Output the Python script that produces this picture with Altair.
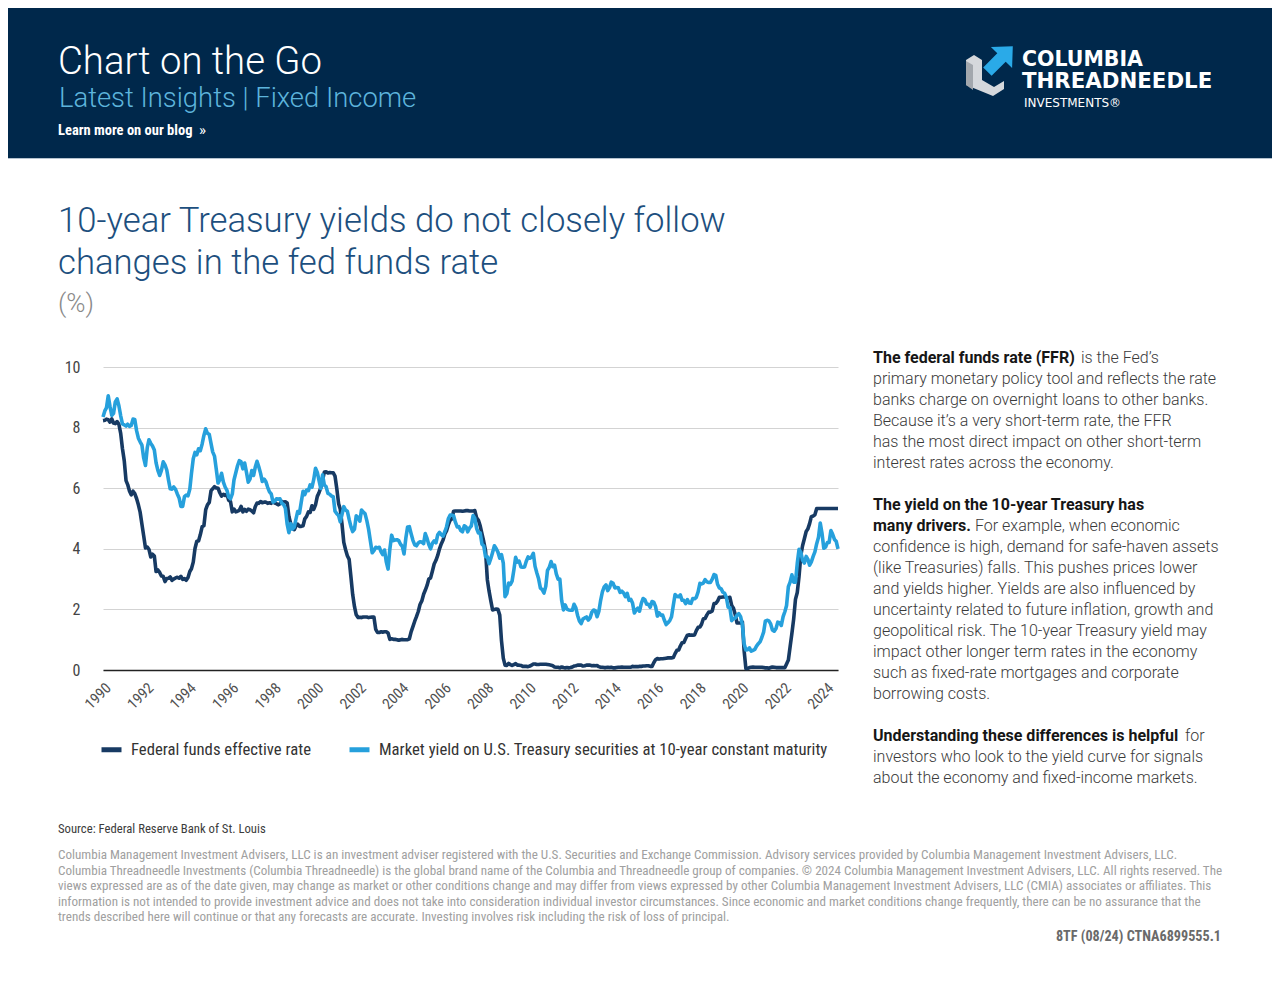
import altair as alt
import pandas as pd

# ---------------- data (monthly, Jan 1990 - Aug 2024) ----------------
series_names = [
    "Federal funds effective rate",
    "Market yield on U.S. Treasury securities at 10-year constant maturity",
]

ffr = [
    8.23, 8.24, 8.28, 8.26, 8.18, 8.29, 8.15, 8.13, 8.20, 8.11, 7.81, 7.31,  # 1990
    6.91, 6.25, 6.12, 5.91, 5.78, 5.90, 5.82, 5.66, 5.45, 5.21, 4.81, 4.43,  # 1991
    4.03, 4.06, 3.98, 3.73, 3.82, 3.76, 3.25, 3.30, 3.22, 3.10, 3.09, 2.92,  # 1992
    3.02, 3.03, 3.07, 2.96, 3.00, 3.04, 3.06, 3.03, 3.09, 2.99, 3.02, 2.96,  # 1993
    3.05, 3.25, 3.34, 3.56, 4.01, 4.25, 4.26, 4.47, 4.73, 4.76, 5.29, 5.45,  # 1994
    5.53, 5.92, 5.98, 6.05, 6.01, 6.00, 5.85, 5.74, 5.80, 5.76, 5.80, 5.60,  # 1995
    5.56, 5.22, 5.31, 5.22, 5.24, 5.27, 5.40, 5.22, 5.30, 5.24, 5.31, 5.29,  # 1996
    5.25, 5.19, 5.39, 5.51, 5.50, 5.56, 5.52, 5.54, 5.54, 5.50, 5.52, 5.50,  # 1997
    5.56, 5.51, 5.49, 5.45, 5.49, 5.56, 5.54, 5.55, 5.51, 5.07, 4.83, 4.68,  # 1998
    4.63, 4.76, 4.81, 4.74, 4.74, 4.76, 4.99, 5.07, 5.22, 5.20, 5.42, 5.30,  # 1999
    5.45, 5.73, 5.85, 6.02, 6.27, 6.53, 6.54, 6.50, 6.52, 6.51, 6.51, 6.40,  # 2000
    5.98, 5.49, 5.31, 4.80, 4.21, 3.97, 3.77, 3.65, 3.07, 2.49, 2.09, 1.82,  # 2001
    1.73, 1.74, 1.73, 1.75, 1.75, 1.75, 1.73, 1.74, 1.75, 1.75, 1.34, 1.24,  # 2002
    1.24, 1.26, 1.25, 1.26, 1.26, 1.22, 1.01, 1.03, 1.01, 1.01, 1.00, 0.98,  # 2003
    1.00, 1.01, 1.00, 1.00, 1.00, 1.03, 1.26, 1.43, 1.61, 1.76, 1.93, 2.16,  # 2004
    2.28, 2.50, 2.63, 2.79, 3.00, 3.04, 3.26, 3.50, 3.62, 3.78, 4.00, 4.16,  # 2005
    4.29, 4.49, 4.59, 4.79, 4.94, 4.99, 5.24, 5.25, 5.25, 5.25, 5.25, 5.24,  # 2006
    5.25, 5.26, 5.26, 5.25, 5.25, 5.25, 5.26, 5.02, 4.94, 4.76, 4.49, 4.24,  # 2007
    3.94, 2.98, 2.61, 2.28, 1.98, 2.00, 2.01, 2.00, 1.81, 0.97, 0.39, 0.16,  # 2008
    0.15, 0.22, 0.18, 0.15, 0.18, 0.21, 0.16, 0.16, 0.15, 0.12, 0.12, 0.12,  # 2009
    0.11, 0.13, 0.16, 0.20, 0.20, 0.18, 0.18, 0.19, 0.19, 0.19, 0.19, 0.18,  # 2010
    0.17, 0.16, 0.14, 0.10, 0.09, 0.09, 0.07, 0.10, 0.08, 0.07, 0.08, 0.07,  # 2011
    0.08, 0.10, 0.13, 0.14, 0.16, 0.16, 0.16, 0.13, 0.14, 0.16, 0.16, 0.16,  # 2012
    0.14, 0.15, 0.14, 0.15, 0.11, 0.09, 0.09, 0.08, 0.08, 0.09, 0.08, 0.09,  # 2013
    0.07, 0.07, 0.08, 0.09, 0.09, 0.10, 0.09, 0.09, 0.09, 0.09, 0.09, 0.12,  # 2014
    0.11, 0.11, 0.11, 0.12, 0.12, 0.13, 0.13, 0.14, 0.14, 0.12, 0.12, 0.24,  # 2015
    0.34, 0.38, 0.36, 0.37, 0.37, 0.38, 0.39, 0.40, 0.40, 0.40, 0.41, 0.54,  # 2016
    0.65, 0.66, 0.79, 0.90, 0.91, 1.04, 1.15, 1.16, 1.15, 1.15, 1.16, 1.30,  # 2017
    1.41, 1.42, 1.51, 1.69, 1.70, 1.82, 1.91, 1.91, 1.95, 2.19, 2.20, 2.27,  # 2018
    2.40, 2.40, 2.41, 2.42, 2.39, 2.38, 2.40, 2.13, 2.04, 1.83, 1.55, 1.55,  # 2019
    1.55, 1.58, 0.65, 0.05, 0.05, 0.08, 0.09, 0.10, 0.09, 0.09, 0.09, 0.09,  # 2020
    0.09, 0.08, 0.07, 0.07, 0.06, 0.08, 0.10, 0.09, 0.08, 0.08, 0.08, 0.08,  # 2021
    0.08, 0.08, 0.20, 0.33, 0.77, 1.21, 1.68, 2.33, 2.56, 3.08, 3.78, 4.10,  # 2022
    4.33, 4.57, 4.65, 4.83, 5.06, 5.08, 5.12, 5.33, 5.33, 5.33, 5.33, 5.33,  # 2023
    5.33, 5.33, 5.33, 5.33, 5.33, 5.33, 5.33, 5.33,                          # 2024
]

ust10 = [
    8.35, 8.55, 8.65, 9.05, 8.70, 8.40, 8.47, 8.85, 8.95, 8.72, 8.39, 8.12,  # 1990
    8.09, 8.05, 8.11, 8.04, 8.07, 8.28, 8.27, 7.90, 7.65, 7.53, 7.42, 7.00,  # 1991
    6.75, 7.34, 7.60, 7.48, 7.39, 7.26, 6.84, 6.59, 6.42, 6.59, 6.87, 6.77,  # 1992
    6.60, 6.26, 5.98, 5.97, 6.04, 5.96, 5.81, 5.68, 5.40, 5.40, 5.72, 5.77,  # 1993
    5.75, 5.97, 6.48, 6.97, 7.18, 7.10, 7.30, 7.24, 7.46, 7.74, 7.96, 7.81,  # 1994
    7.78, 7.47, 7.20, 7.06, 6.63, 6.17, 6.28, 6.49, 6.20, 6.04, 5.93, 5.71,  # 1995
    5.65, 5.81, 6.27, 6.51, 6.74, 6.91, 6.87, 6.64, 6.83, 6.53, 6.20, 6.30,  # 1996
    6.58, 6.42, 6.69, 6.89, 6.71, 6.49, 6.22, 6.30, 6.21, 6.03, 5.88, 5.81,  # 1997
    5.54, 5.57, 5.65, 5.64, 5.65, 5.50, 5.46, 5.34, 4.81, 4.53, 4.83, 4.65,  # 1998
    4.72, 5.00, 5.23, 5.18, 5.54, 5.90, 5.79, 5.94, 5.92, 6.11, 6.03, 6.28,  # 1999
    6.66, 6.52, 6.26, 5.99, 6.44, 6.10, 6.05, 5.83, 5.80, 5.74, 5.72, 5.24,  # 2000
    5.16, 5.10, 4.89, 5.14, 5.39, 5.28, 5.24, 4.97, 4.73, 4.57, 4.65, 5.09,  # 2001
    5.04, 4.91, 5.28, 5.21, 5.16, 4.93, 4.65, 4.26, 3.87, 3.94, 4.05, 4.03,  # 2002
    4.05, 3.90, 3.81, 3.96, 3.57, 3.33, 3.98, 4.45, 4.27, 4.29, 4.30, 4.27,  # 2003
    4.15, 4.08, 3.83, 4.35, 4.72, 4.73, 4.50, 4.28, 4.13, 4.10, 4.19, 4.23,  # 2004
    4.22, 4.17, 4.50, 4.34, 4.14, 4.00, 4.18, 4.26, 4.20, 4.46, 4.54, 4.47,  # 2005
    4.42, 4.57, 4.72, 4.99, 5.11, 5.11, 5.09, 4.88, 4.72, 4.73, 4.60, 4.56,  # 2006
    4.76, 4.72, 4.56, 4.69, 4.75, 5.10, 5.00, 4.67, 4.52, 4.53, 4.15, 4.10,  # 2007
    3.74, 3.74, 3.51, 3.68, 3.88, 4.10, 4.01, 3.89, 3.69, 3.81, 3.53, 2.42,  # 2008
    2.52, 2.87, 2.82, 2.93, 3.29, 3.72, 3.56, 3.59, 3.40, 3.39, 3.40, 3.59,  # 2009
    3.73, 3.69, 3.73, 3.85, 3.42, 3.20, 3.01, 2.70, 2.65, 2.54, 2.76, 3.29,  # 2010
    3.39, 3.58, 3.41, 3.46, 3.17, 3.00, 3.00, 2.30, 1.98, 2.15, 2.01, 1.98,  # 2011
    1.97, 1.97, 2.17, 2.05, 1.80, 1.62, 1.53, 1.68, 1.72, 1.75, 1.65, 1.72,  # 2012
    1.91, 1.98, 1.96, 1.76, 1.93, 2.30, 2.58, 2.74, 2.81, 2.62, 2.72, 2.90,  # 2013
    2.86, 2.71, 2.72, 2.71, 2.56, 2.60, 2.54, 2.42, 2.53, 2.30, 2.33, 2.21,  # 2014
    1.88, 1.98, 2.04, 1.94, 2.20, 2.36, 2.32, 2.17, 2.17, 2.07, 2.26, 2.24,  # 2015
    2.09, 1.78, 1.89, 1.81, 1.81, 1.64, 1.50, 1.56, 1.63, 1.76, 2.14, 2.49,  # 2016
    2.43, 2.42, 2.48, 2.30, 2.30, 2.19, 2.32, 2.21, 2.20, 2.36, 2.35, 2.40,  # 2017
    2.58, 2.86, 2.84, 2.87, 2.98, 2.91, 2.89, 2.89, 3.00, 3.15, 3.12, 2.83,  # 2018
    2.71, 2.68, 2.57, 2.53, 2.40, 2.07, 2.06, 1.63, 1.70, 1.71, 1.81, 1.86,  # 2019
    1.76, 1.50, 0.87, 0.66, 0.67, 0.73, 0.62, 0.65, 0.68, 0.79, 0.87, 0.93,  # 2020
    1.08, 1.26, 1.61, 1.64, 1.62, 1.52, 1.32, 1.28, 1.37, 1.58, 1.56, 1.47,  # 2021
    1.76, 1.93, 2.13, 2.75, 2.90, 3.14, 2.90, 2.90, 3.52, 3.98, 3.89, 3.62,  # 2022
    3.53, 3.75, 3.66, 3.46, 3.57, 3.75, 3.90, 4.17, 4.38, 4.85, 4.50, 4.02,  # 2023
    4.06, 4.21, 4.21, 4.60, 4.48, 4.31, 4.25, 4.00,                          # 2024
]

x_tick_years = list(range(1990, 2025, 2))
y_ticks = [0, 2, 4, 6, 8, 10]

title_lines = [
    "10-year Treasury yields do not closely follow",
    "changes in the fed funds rate",
]

# ---------------- styles ----------------
NAVY = "#00284b"
DARK = "#173a63"
LIGHT = "#26a0dc"
TITLE_BLUE = "#1d4f7e"
ROBOTO = "Roboto"
COND = "'Roboto Condensed', 'Liberation Sans Narrow', 'Arial Narrow', Roboto, sans-serif"
LOGO = "'DejaVu Sans', sans-serif"

# plot area origin in page coordinates
OX, OY = 103, 367
PW, PH = 735, 303

n = len(ffr)
dates = pd.date_range("1990-01-01", periods=n, freq="MS")
df = pd.DataFrame({
    "date": list(dates) + list(dates[: len(ust10)]),
    "value": ffr + ust10,
    "series": [series_names[0]] * n + [series_names[1]] * len(ust10),
})

one = pd.DataFrame({"k": [0]})


def txt(s, px, py, size, color, weight="normal", font=ROBOTO, align="left"):
    return alt.Chart(one).mark_text(
        text=s, align=align, baseline="alphabetic", fontSize=size,
        font=font, fontWeight=weight, color=color,
    ).encode(x=alt.value(px - OX), y=alt.value(py - OY))


def shape(path, cx, cy, half, color):
    return alt.Chart(one).mark_point(
        shape=path, size=(2 * half) ** 2, filled=True, fill=color,
        opacity=1, strokeWidth=0,
    ).encode(x=alt.value(cx - OX), y=alt.value(cy - OY))


layers = []

# header band
layers.append(alt.Chart(one).mark_rect(color=NAVY).encode(
    x=alt.value(-OX), x2=alt.value(1290 - OX), y=alt.value(-OY), y2=alt.value(158 - OY)))
layers.append(alt.Chart(one).mark_rule(color="#b4c2cf", strokeWidth=1).encode(
    x=alt.value(-OX), x2=alt.value(1290 - OX), y=alt.value(158.5 - OY)))

layers.append(txt("Chart on the Go", 58, 74, 38.3, "white", weight=300))
layers.append(txt("Latest Insights | Fixed Income", 59, 107, 27.4, "#5db4dc", weight=300))
layers.append(txt("Learn more on our blog", 58, 135, 14.5, "white", weight="bold", font=COND))
layers.append(txt("»", 199, 135, 15, "white", font=ROBOTO))

# logo
gray_path = ("M-0.944,-0.370 L-0.648,-0.556 L-0.352,-0.370 L-0.352,0.370 L0.093,0.630 "
             "L0.463,0.407 L0.463,0.704 L0.056,0.963 L-0.944,0.556 Z")
gray_side = "M-0.944,-0.333 L-0.685,-0.185 L-0.685,0.741 L-0.944,0.556 Z"
arrow_path = ("M0.789,-0.881 L0.763,-0.070 L0.526,-0.307 L0.004,0.215 L-0.307,-0.096 "
              "L0.215,-0.619 L-0.022,-0.856 Z")
layers.append(shape(gray_path, 991.5, 70, 27, "#d5d8dc"))
layers.append(shape(gray_side, 991.5, 70, 27, "#a2a7ad"))
layers.append(shape(arrow_path, 991.5, 70, 27, "#2aaae8"))
layers.append(txt("COLUMBIA", 1022, 65.5, 20.5, "white", weight="bold", font=LOGO))
layers.append(txt("THREADNEEDLE", 1022, 88, 21.3, "white", weight="bold", font=LOGO))
layers.append(txt("INVESTMENTS®", 1024, 107, 12, "white", font=LOGO))

# title
layers.append(txt(title_lines[0], 58, 232, 34.7, TITLE_BLUE, weight=300))
layers.append(txt(title_lines[1], 58, 274, 34.7, TITLE_BLUE, weight=300))
layers.append(txt("(%)", 58, 312, 26, "#8a8a8a", weight=300))

# right-hand commentary
RX = 873
BODY = 16
BC = "#3a3a3a"
HC = "#161616"
p1 = [
    "primary monetary policy tool and reflects the rate",
    "banks charge on overnight loans to other banks.",
    "Because it\u2019s a very short-term rate, the FFR",
    "has the most direct impact on other short-term",
    "interest rates across the economy.",
]
p2 = [
    "confidence is high, demand for safe-haven assets",
    "(like Treasuries) falls. This pushes prices lower",
    "and yields higher. Yields are also influenced by",
    "uncertainty related to future inflation, growth and",
    "geopolitical risk. The 10-year Treasury yield may",
    "impact other longer term rates in the economy",
    "such as fixed-rate mortgages and corporate",
    "borrowing costs.",
]
p3 = [
    "investors who look to the yield curve for signals",
    "about the economy and fixed-income markets.",
]
layers.append(txt("The federal funds rate (FFR)", RX, 363, BODY, HC, weight="bold"))
layers.append(txt("is the Fed\u2019s", 1081, 363, BODY, BC, weight=300))
for i, s in enumerate(p1):
    layers.append(txt(s, RX, 384 + 21 * i, BODY, BC, weight=300))
layers.append(txt("The yield on the 10-year Treasury has", RX, 510, BODY, HC, weight="bold"))
layers.append(txt("many drivers.", RX, 531, BODY, HC, weight="bold"))
layers.append(txt("For example, when economic", 975, 531, BODY, BC, weight=300))
for i, s in enumerate(p2):
    layers.append(txt(s, RX, 552 + 21 * i, BODY, BC, weight=300))
layers.append(txt("Understanding these differences is helpful", RX, 741, BODY, HC, weight="bold"))
layers.append(txt("for", 1185, 741, BODY, BC, weight=300))
for i, s in enumerate(p3):
    layers.append(txt(s, RX, 762 + 21 * i, BODY, BC, weight=300))

# footer
layers.append(txt("Source: Federal Reserve Bank of St. Louis", 58, 833, 12.7, "#3c3c3c", font=COND))
disclaimer = [
    "Columbia Management Investment Advisers, LLC is an investment adviser registered with the U.S. Securities and Exchange Commission. Advisory services provided by Columbia Management Investment Advisers, LLC.",
    "Columbia Threadneedle Investments (Columbia Threadneedle) is the global brand name of the Columbia and Threadneedle group of companies. \u00a9 2024 Columbia Management Investment Advisers, LLC. All rights reserved. The",
    "views expressed are as of the date given, may change as market or other conditions change and may differ from views expressed by other Columbia Management Investment Advisers, LLC (CMIA) associates or affiliates. This",
    "information is not intended to provide investment advice and does not take into consideration individual investor circumstances. Since economic and market conditions change frequently, there can be no assurance that the",
    "trends described here will continue or that any forecasts are accurate. Investing involves risk including the risk of loss of principal.",
]
for i, s in enumerate(disclaimer):
    layers.append(txt(s, 58, 859 + 15.5 * i, 13.1, "#a0a0a0", font=COND))
layers.append(txt("8TF (08/24) CTNA6899555.1", 1221, 941, 14.2, "#6a6a6a", weight="bold", font=COND, align="right"))

# ---------------- the line chart ----------------
x_enc = alt.X(
    "date:T",
    scale=alt.Scale(domain=[alt.DateTime(year=1990, month=1, date=1),
                            alt.DateTime(year=2024, month=8, date=1)]),
    axis=alt.Axis(
        title=None, values=[alt.DateTime(year=y, month=1, date=1) for y in x_tick_years],
        format="%Y", labelAngle=-45, grid=False, ticks=False, domain=True,
        domainColor="#222222", domainWidth=1.6, labelFont=COND, labelFontSize=15,
        labelColor="#505050", labelPadding=10,
    ),
)
y_enc = alt.Y(
    "value:Q",
    scale=alt.Scale(domain=[0, 10], nice=False),
    axis=alt.Axis(
        title=None, values=y_ticks, domain=False, ticks=False, grid=True,
        gridColor="#d3d3d3", gridWidth=1.2, labelFont=COND, labelFontSize=16,
        labelColor="#444444", labelPadding=23,
    ),
)
color_enc = alt.Color(
    "series:N",
    scale=alt.Scale(domain=series_names, range=[DARK, LIGHT]),
    legend=alt.Legend(
        title=None, orient="none", legendX=-4, legendY=370, direction="horizontal",
        padding=0, symbolType="stroke", symbolSize=400, symbolStrokeWidth=5,
        labelFont=COND, labelFontSize=16.7, labelColor="#333333", labelLimit=800,
        columnPadding=27, labelOffset=7,
    ),
)

for name in series_names:
    layers.append(
        alt.Chart(df[df["series"] == name]).mark_line(strokeWidth=3.6, strokeJoin="round")
        .encode(x=x_enc, y=y_enc, color=color_enc)
    )

chart = alt.layer(*layers).properties(
    width=PW, height=PH,
    padding={"left": OX - 8, "top": OY - 8, "right": 1280 - 8 - OX - PW, "bottom": 290},
    autosize=alt.AutoSizeParams(type="none"),
    background="white",
).configure_view(stroke=None)

chart.save("out.html", embed_options={"renderer": "svg", "actions": False})
